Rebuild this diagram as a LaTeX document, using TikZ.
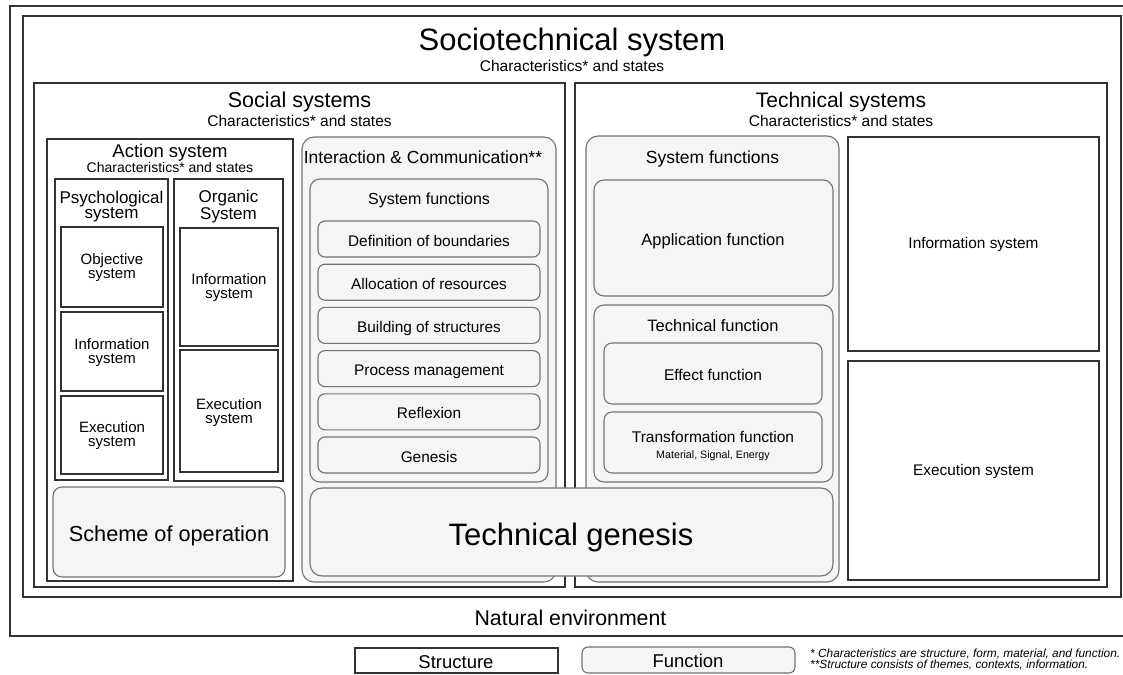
\documentclass[tikz,border=0pt]{standalone}
\usepackage{fontspec}
\setmainfont{Liberation Sans}
\usepackage{graphicx}
\newcommand{\fsz}[2]{\fontsize{#1}{#2}\selectfont}
\begin{document}
\begin{tikzpicture}[x=1pt,y=-1pt,
  structure/.style={draw=black!80, line width=1.2pt},
  funcbox/.style={draw=black!55, line width=1.1pt, fill=black!4, rounded corners=#1},
  funcbox/.default=8pt,
  lbl/.style={inner sep=0pt, anchor=base},
  ctr/.style={inner sep=0pt, align=center}]
\useasboundingbox (0,0) rectangle (1123,674);
\fill[white] (0,0) rectangle (1123,674);

% ---------- enclosing systems ----------
\draw[structure] (10,6) rectangle (1140,636);      % natural environment
\draw[structure] (23,16) rectangle (1121,597);     % sociotechnical system
\draw[structure] (34,83) rectangle (565,587);      % social systems
\draw[structure] (575,83) rectangle (1107,587);    % technical systems

\node[lbl, font=\fsz{31}{31}] (stTitle) at (572,51) {Sociotechnical system};
\node[lbl, font=\fsz{15.5}{15.5}] (stSub) at (572,72) {Characteristics* and states};
\node[lbl, font=\fsz{21.5}{21.5}] (socTitle) at (299.5,107) {Social systems};
\node[lbl, font=\fsz{15.5}{15.5}] (socSub) at (299.5,126) {Characteristics* and states};
\node[lbl, font=\fsz{21}{21}] (tecTitle) at (841,107) {Technical systems};
\node[lbl, font=\fsz{15.5}{15.5}] (tecSub) at (841,126) {Characteristics* and states};

% ---------- action system ----------
\draw[structure] (47,139) rectangle (293,581);
\node[lbl, font=\fsz{18.5}{18.5}] (actTitle) at (170,157) {Action system};
\node[lbl, font=\fsz{14}{14}] (actSub) at (170,172) {Characteristics* and states};

\draw[structure] (55,179) rectangle (168,480);
\node[ctr, font=\fsz{17}{15}] (psyTitle) at (111.5,206.6) {Psychological\\system};
\draw[structure] (61,227) rectangle (163,307);
\node[ctr, font=\fsz{15}{14.5}] (psyObj) at (112,267.5) {Objective\\system};
\draw[structure] (61,312) rectangle (163,391);
\node[ctr, font=\fsz{15}{14.5}] (psyInfo) at (112,352.5) {Information\\system};
\draw[structure] (61,396) rectangle (163,474);
\node[ctr, font=\fsz{15}{14.5}] (psyExec) at (112,435.5) {Execution\\system};

\draw[structure] (174,179) rectangle (283,481);
\node[ctr, font=\fsz{17}{15}] (orgTitle) at (228.5,206.6) {Organic\\System};
\draw[structure] (180,228) rectangle (278,346);
\node[ctr, font=\fsz{15}{14.5}] (orgInfo) at (229,287.5) {Information\\system};
\draw[structure] (180,350) rectangle (278,472);
\node[ctr, font=\fsz{15}{14.5}] (orgExec) at (229,412.5) {Execution\\system};

\draw[funcbox=9pt] (53,487) rectangle (285,577);
\node[lbl, font=\fsz{21.7}{21.7}] (scheme) at (169,541) {Scheme of operation};

% ---------- interaction & communication ----------
\draw[funcbox=12pt] (302,137) rectangle (556,582);
\node[lbl, font=\fsz{17.5}{17.5}] (icTitle) at (423,163) {Interaction \& Communication**};
\draw[funcbox=10pt] (310,179) rectangle (548,482);
\node[lbl, font=\fsz{16}{16}] (icFunc) at (429,204) {System functions};

\draw[funcbox=7pt] (318,221) rectangle (540,257);
\node[lbl, font=\fsz{15.4}{15.4}] (fBound) at (429,246) {Definition of boundaries};
\draw[funcbox=7pt] (318,264.2) rectangle (540,300.2);
\node[lbl, font=\fsz{15.4}{15.4}] (fAlloc) at (429,289.2) {Allocation of resources};
\draw[funcbox=7pt] (318,307.4) rectangle (540,343.4);
\node[lbl, font=\fsz{15.4}{15.4}] (fBuild) at (429,332.4) {Building of structures};
\draw[funcbox=7pt] (318,350.6) rectangle (540,386.6);
\node[lbl, font=\fsz{15.4}{15.4}] (fProc) at (429,375.6) {Process management};
\draw[funcbox=7pt] (318,393.8) rectangle (540,429.8);
\node[lbl, font=\fsz{15.4}{15.4}] (fRefl) at (429,418.8) {Reflexion};
\draw[funcbox=7pt] (318,437) rectangle (540,473);
\node[lbl, font=\fsz{15.4}{15.4}] (fGen) at (429,462) {Genesis};

% ---------- technical system functions ----------
\draw[funcbox=12pt] (586,136) rectangle (839,582);
\node[lbl, font=\fsz{17.5}{17.5}] (tsFunc) at (712.5,163) {System functions};
\draw[funcbox=10pt] (594,180) rectangle (833,296);
\node[lbl, font=\fsz{16.5}{16.5}] (appFunc) at (713,245) {Application function};
\draw[funcbox=10pt] (594,305) rectangle (833,482);
\node[lbl, font=\fsz{16.5}{16.5}] (techFunc) at (713,331) {Technical function};
\draw[funcbox=8pt] (604,343) rectangle (822,404);
\node[lbl, font=\fsz{15.5}{15.5}] (effFunc) at (713,380) {Effect function};
\draw[funcbox=8pt] (604,412) rectangle (822,473);
\node[lbl, font=\fsz{15.5}{15.5}] (trfFunc) at (713,442) {Transformation function};
\node[lbl, font=\fsz{10.7}{10.7}] (trfSub) at (713,458) {Material, Signal, Energy};

% ---------- technical structure ----------
\draw[structure] (848,137) rectangle (1099,351);
\node[lbl, font=\fsz{15.4}{15.4}] (tInfo) at (973.5,248.5) {Information system};
\draw[structure] (848,361) rectangle (1099,580);
\node[lbl, font=\fsz{15.4}{15.4}] (tExec) at (973.5,475) {Execution system};

% ---------- technical genesis (spans both sides) ----------
\draw[funcbox=12pt] (310,488) rectangle (833,576);
\node[lbl, font=\fsz{31}{31}] (techGen) at (571,545) {Technical genesis};

\node[lbl, font=\fsz{21.3}{21.3}] (natEnv) at (570.5,625) {Natural environment};

% ---------- legend ----------
\draw[structure] (355,648) rectangle (558,673);
\node[lbl, font=\fsz{18.5}{18.5}] (legStruct) at (456,668) {Structure};
\draw[funcbox=6pt] (582,647) rectangle (795,673);
\node[lbl, font=\fsz{18.5}{18.5}] (legFunc) at (688,667) {Function};

\node[inner sep=0pt, anchor=base west] (note1) at (810,657)
  {\resizebox{310pt}{8.6pt}{\fsz{12}{12}\itshape * Characteristics are structure, form, material, and function.}};
\node[inner sep=0pt, anchor=base west] (note2) at (810,668)
  {\resizebox{278pt}{8.6pt}{\fsz{12}{12}\itshape **Structure consists of themes, contexts, information.}};
\end{tikzpicture}
\end{document}
